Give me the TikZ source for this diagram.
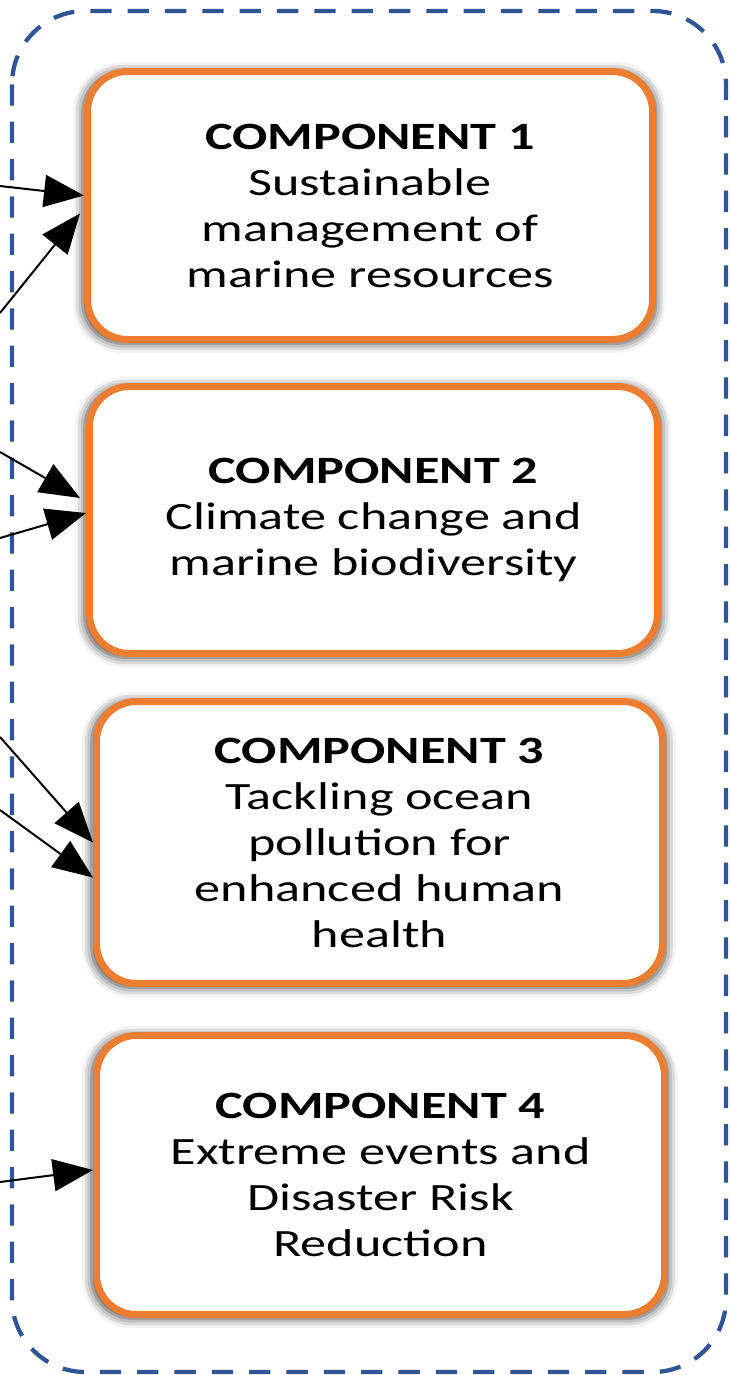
\documentclass[tikz,border=0pt]{standalone}
\usepackage{fontspec}
\setmainfont{Carlito}[FakeStretch=1.35]
\usepackage{tikz}
\usetikzlibrary{arrows.meta,calc,shadows.blur}

\definecolor{compOrange}{RGB}{237,125,49}
\definecolor{frameBlue}{RGB}{47,85,151}

\tikzset{
  comp/.style={draw=compOrange, line width=5.25pt, fill=white, rounded corners=30pt,
    align=center, inner sep=0pt, font=\fontsize{29}{34.5}\selectfont,
    blur shadow={shadow xshift=-0.5pt, shadow yshift=-1.5pt, shadow blur radius=7pt,
      shadow blur extra rounding=3pt, shadow opacity=75, shadow scale=1.015}},
  feed/.style={-{Triangle[length=30pt,width=24pt]}, line width=1.5pt}
}

\begin{document}
\begin{tikzpicture}[x=0.75pt,y=0.75pt,yscale=-1,xscale=1]
    \useasboundingbox (0,0) rectangle (730,1375);

    %Shape: Rounded Rectangle [id:frame]
    \draw [frameBlue, line width=3.2pt, dash pattern=on 16pt off 12pt, rounded corners=55pt] (12,11) rectangle (726,1372) ;

    % Text Node
    \node [comp, minimum width=423.75pt, minimum height=201pt] (c1) at (370,205.5) {\textbf{COMPONENT 1}\\Sustainable\\management of\\marine resources};
    % Text Node
    \node [comp, minimum width=426pt, minimum height=200.25pt] (c2) at (373.5,520) {\textbf{COMPONENT 2}\\Climate change and\\marine biodiversity};
    % Text Node
    \node [comp, minimum width=424.5pt, minimum height=211.5pt] (c3) at (379.5,842.5) {\textbf{COMPONENT 3}\\Tackling ocean\\pollution for\\enhanced human\\health};
    % Text Node
    \node [comp, minimum width=426pt, minimum height=209.25pt] (c4) at (380.5,1175) {\textbf{COMPONENT 4}\\Extreme events and\\Disaster Risk\\Reduction};

    %Straight Lines [id:in1] 
    \coordinate (s1) at (0,186);
    \coordinate (s2) at (0,313);
    \coordinate (s3) at (0,452);
    \coordinate (s4) at (0,538);
    \coordinate (s5) at (0,737);
    \coordinate (s6) at (0,810);
    \coordinate (s7) at (0,1182);
    \draw [feed]    (s1) -- ($(c1.west)+(0,-10)$) ;
    \draw [feed]    (s2) -- ($(c1.west)+(-4,8)$) ;
    %Straight Lines [id:in2] 
    \draw [feed]    (s3) -- ($(c2.west)+(-6,-22)$) ;
    \draw [feed]    (s4) -- ($(c2.west)+(0,-7)$) ;
    %Straight Lines [id:in3] 
    \draw [feed]    (s5) -- ($(c3.west)+(0,0)$) ;
    \draw [feed]    (s6) -- ($(c3.west)+(0,35)$) ;
    %Straight Lines [id:in4] 
    \draw [feed]    (s7) -- ($(c4.west)+(0,-5)$) ;

\end{tikzpicture}
\end{document}
